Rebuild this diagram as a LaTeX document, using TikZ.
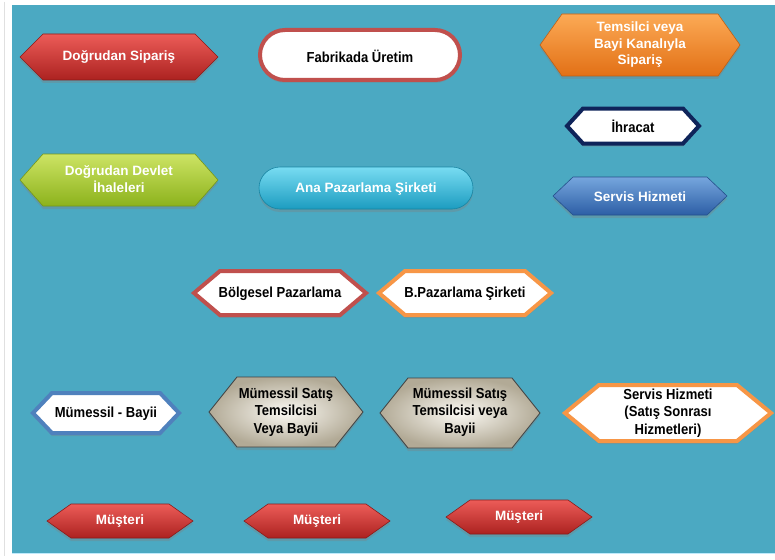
\documentclass[tikz,border=0pt]{standalone}
\usepackage{fontspec}
\setmainfont{Liberation Sans}
\newfontfamily\condf[FakeStretch=0.9]{Liberation Sans}
\usetikzlibrary{shadows}
\definecolor{bgteal}{RGB}{75,169,194}
\definecolor{redA}{RGB}{236,92,88}
\definecolor{redB}{RGB}{172,34,32}
\definecolor{redline}{RGB}{192,80,77}
\definecolor{orA}{RGB}{252,170,85}
\definecolor{orB}{RGB}{226,112,22}
\definecolor{orline}{RGB}{247,150,70}
\definecolor{grA}{RGB}{205,228,100}
\definecolor{grB}{RGB}{140,178,28}
\definecolor{cyA}{RGB}{120,220,242}
\definecolor{cyB}{RGB}{28,156,192}
\definecolor{blA}{RGB}{118,166,222}
\definecolor{blB}{RGB}{44,94,165}
\definecolor{blline}{RGB}{79,129,189}
\definecolor{navy}{RGB}{15,36,90}
\definecolor{beigeIn}{RGB}{252,250,244}
\definecolor{beigeOut}{RGB}{178,170,150}
\tikzset{
  sh/.style={drop shadow={opacity=0.35,shadow xshift=0pt,shadow yshift=-3pt}},
  redfill/.style={sh,top color=redA,bottom color=redB,draw=redB!80!black,line width=0.6pt},
  orfill/.style={sh,top color=orA,bottom color=orB,draw=orB!85!black,line width=0.6pt},
  grfill/.style={sh,top color=grA,bottom color=grB,draw=grB!85!black,line width=0.6pt},
  cyfill/.style={sh,top color=cyA,bottom color=cyB,draw=cyB!85!black,line width=0.6pt},
  blfill/.style={sh,top color=blA,bottom color=blB,draw=blB!85!black,line width=0.6pt},
  whiteline/.style={sh,fill=white,draw=#1,line width=4pt,line join=miter},
  beigefill/.style={sh,inner color=beigeIn,outer color=beigeOut,draw=black!75,line width=0.8pt},
  wtxt/.style={text=white,font=\fontsize{13.5}{16.5}\selectfont\bfseries,align=center,inner sep=0pt},
  btxt/.style={text=black,font=\condf\fontsize{14.5}{17.5}\selectfont\bfseries,align=center,inner sep=0pt}
}
% #1 style, #2 cx, #3 cy, #4 half width, #5 half height, #6 tip depth
\newcommand\hexpath[6]{%
  \path[#1] (#2-#4,#3) -- (#2-#4+#6,#3-#5) -- (#2+#4-#6,#3-#5) -- (#2+#4,#3)
    -- (#2+#4-#6,#3+#5) -- (#2-#4+#6,#3+#5) -- cycle;}
\newcommand\stadium[5]{%
  \path[#1,rounded corners=#5] (#2-#4,#3-#5) rectangle (#2+#4,#3+#5);}
\begin{document}
\begin{tikzpicture}[x=1pt,y=-1pt]
\useasboundingbox (0,0) rectangle (775,559);
\fill[white] (0,0) rectangle (775,559);
\draw[black!12,line width=1pt] (4,2) -- (4,556);
\fill[bgteal] (12,5) rectangle (775,553);
\draw[cyan!25,line width=0.8pt] (12,553.5) -- (775,553.5);

% row 1
\hexpath{redfill}{119}{57}{99}{23}{23}
\node[wtxt] (ds) at (119,57) {Doğrudan Sipariş};
\stadium{whiteline=redline}{360}{55}{100}{25}
\node[btxt] (fu) at (360,56) {Fabrikada Üretim};
\hexpath{orfill}{640}{45}{100}{31}{22}
\node[wtxt] (tb) at (640,45) {Temsilci veya\\Bayi Kanalıyla\\Sipariş};
\hexpath{whiteline=navy}{633}{126}{66}{17.5}{16}
\node[btxt] (ih) at (633,126) {İhracat};

% row 2
\hexpath{grfill}{119}{180}{99}{26}{23}
\node[wtxt] (dd) at (119,179) {Doğrudan Devlet\\İhaleleri};
\stadium{cyfill}{366}{188}{107}{21}
\node[wtxt] (ap) at (366,189) {Ana Pazarlama Şirketi};
\hexpath{blfill}{640}{196}{87}{19}{20}
\node[wtxt] (sv) at (640,197) {Servis Hizmeti};

% row 3
\hexpath{whiteline=redline}{280}{293}{86}{22}{26}
\node[btxt] (bp) at (280,294) {Bölgesel Pazarlama};
\hexpath{whiteline=orline}{465}{293}{86}{22}{26}
\node[btxt] (bs) at (465,294) {B.Pazarlama Şirketi};

% row 4
\hexpath{whiteline=blline}{106}{413}{73}{20}{19}
\node[btxt] (mb) at (106,414) {Mümessil - Bayii};
\hexpath{beigefill}{286}{412}{77}{35}{28}
\node[btxt] (m1) at (286,412) {Mümessil Satış\\Temsilcisi\\Veya Bayii};
\hexpath{beigefill}{460}{413}{80}{35}{28}
\node[btxt] (m2) at (460,412) {Mümessil Satış\\Temsilcisi veya\\Bayii};
\hexpath{whiteline=orline}{668}{413}{103}{28}{34}
\node[btxt] (ss) at (668,413) {Servis Hizmeti\\(Satış Sonrası\\Hizmetleri)};

% row 5
\hexpath{redfill}{120}{521}{73}{17}{24}
\node[wtxt] (c1) at (120,521) {Müşteri};
\hexpath{redfill}{317}{521}{73}{17}{24}
\node[wtxt] (c2) at (317,521) {Müşteri};
\hexpath{redfill}{519}{517}{73}{17}{24}
\node[wtxt] (c3) at (519,517) {Müşteri};
\end{tikzpicture}
\end{document}
